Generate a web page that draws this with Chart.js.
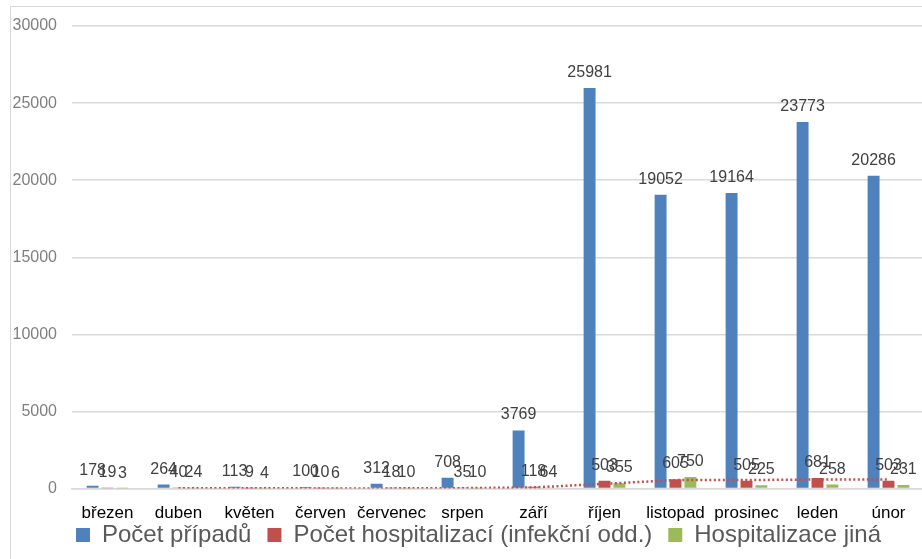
<!DOCTYPE html>
<html>
<head>
<meta charset="utf-8">
<script src="https://cdn.jsdelivr.net/npm/chart.js@4/dist/chart.umd.min.js"></script>
<style>
  html, body { margin: 0; padding: 0; background: #fff; overflow: hidden; }
  #wrap { position: relative; width: 922px; height: 559px; overflow: hidden; }
  #frame { position: absolute; left: 10px; top: 6px; width: 940px; height: 600px;
           border-left: 1.5px solid #d9d9d9; border-top: 1.5px solid #d9d9d9; }
  canvas { position: absolute; left: 0; top: 0; }
</style>
</head>
<body>
<div id="wrap">
  <div id="frame"></div>
  <canvas id="covidChart" width="930" height="559"></canvas>
</div>
<script>
const months = ['březen', 'duben', 'květen', 'červen', 'červenec', 'srpen',
                'září', 'říjen', 'listopad', 'prosinec', 'leden', 'únor'];
const cases = [178, 264, 113, 100, 312, 708, 3769, 25981, 19052, 19164, 23773, 20286];
const hospInfect = [19, 40, 9, 10, 18, 35, 118, 503, 605, 505, 681, 503];
const hospOther = [3, 24, 4, 6, 10, 10, 64, 355, 750, 225, 258, 231];
// dotted trend over the infekční series
const hospTrend = [null, 30, 25, 10, 14, 27, 77, 310, 550, 555, 590, 590];
const yMax = 30000;
const yStep = 5000;

const FONT = '"Liberation Sans", Arial, sans-serif';

// values above bars
const barLabels = {
    id: 'barLabels',
    afterDatasetsDraw(chart) {
        const c = chart.ctx;
        c.save();
        c.font = '16px ' + FONT;
        c.fillStyle = '#404040';
        c.textAlign = 'center';
        c.textBaseline = 'alphabetic';
        chart.data.datasets.forEach((ds, i) => {
            if (ds.type === 'line') return;
            chart.getDatasetMeta(i).data.forEach((bar, j) => {
                c.fillText(String(ds.data[j]), bar.x, bar.y - 11);
            });
        });
        c.restore();
    }
};

// legend sits under the axis labels, starting at the left edge of the plot
const legendPlace = {
    id: 'legendPlace',
    afterLayout(chart) {
        chart.legend.left = 60;
        chart.legend.top = 507;
    }
};

const ctx = document.getElementById('covidChart');
const myChart = new Chart(ctx, {
    type: 'bar',
    data: {
        labels: months,
        datasets: [{
            label: 'Počet případů',
            data: cases,
            backgroundColor: '#4f81bd',
            barPercentage: 0.8,
            categoryPercentage: 0.63,
            order: 2
        }, {
            label: 'Počet hospitalizací (infekční odd.)',
            data: hospInfect,
            backgroundColor: '#c0504d',
            barPercentage: 0.8,
            categoryPercentage: 0.63,
            order: 2
        }, {
            label: 'Hospitalizace jiná',
            data: hospOther,
            backgroundColor: '#9bbb59',
            barPercentage: 0.8,
            categoryPercentage: 0.63,
            order: 2
        }, {
            type: 'line',
            label: 'trend',
            data: hospTrend,
            borderColor: '#c0504d',
            borderWidth: 2.5,
            borderDash: [2, 2.5],
            pointRadius: 0,
            fill: false,
            tension: 0,
            order: 1
        }]
    },
    options: {
        responsive: false,
        animation: false,
        devicePixelRatio: 1,
        layout: {
            padding: { left: 0, right: 6, top: 26, bottom: -22 }
        },
        plugins: {
            legend: {
                position: 'bottom',
                align: 'start',
                labels: {
                    filter: item => item.text !== 'trend',
                    boxWidth: 14,
                    boxHeight: 14,
                    padding: 16,
                    color: '#595959',
                    font: { family: FONT, size: 24 }
                }
            },
            tooltip: { enabled: false }
        },
        scales: {
            x: {
                grid: { display: false },
                border: { color: '#d9d9d9', width: 1.5 },
                ticks: {
                    color: '#000',
                    padding: 7,
                    maxRotation: 0,
                    autoSkip: false,
                    font: { family: FONT, size: 17 }
                }
            },
            y: {
                min: 0,
                max: yMax,
                afterFit(scale) { scale.width = 72; },
                border: { display: false },
                grid: { color: '#d9d9d9', lineWidth: 1.5, drawTicks: false },
                ticks: {
                    stepSize: yStep,
                    color: '#7f7f7f',
                    padding: 15,
                    callback: v => String(v),
                    font: { family: FONT, size: 16 }
                }
            }
        }
    },
    plugins: [barLabels, legendPlace]
});
</script>
</body>
</html>
